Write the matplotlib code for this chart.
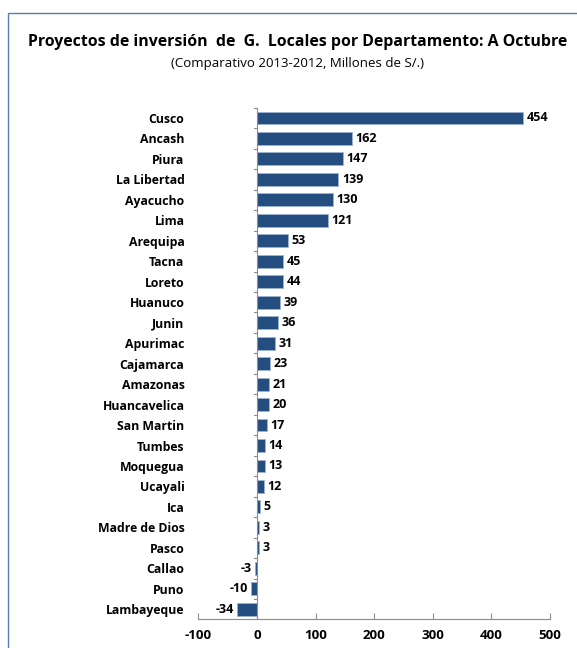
import matplotlib.pyplot as plt
from matplotlib.patches import Rectangle

departamentos = ["Cusco", "Ancash", "Piura", "La Libertad", "Ayacucho", "Lima",
                 "Arequipa", "Tacna", "Loreto", "Huanuco", "Junin", "Apurimac",
                 "Cajamarca", "Amazonas", "Huancavelica", "San Martin", "Tumbes",
                 "Moquegua", "Ucayali", "Ica", "Madre de Dios", "Pasco",
                 "Callao", "Puno", "Lambayeque"]
valores = [454, 162, 147, 139, 130, 121, 53, 45, 44, 39, 36, 31, 23, 21, 20,
           17, 14, 13, 12, 5, 3, 3, -3, -10, -34]
x_ticks = [-100, 0, 100, 200, 300, 400, 500]

plt.rcParams['font.family'] = ['Open Sans', 'DejaVu Sans']

fig = plt.figure(figsize=(5.77, 6.48), dpi=100)
ax = fig.add_axes([0.3438, 0.044, 0.6094, 0.7897])

pos = list(range(len(departamentos)))
ax.barh(pos, valores, height=0.63, color="#254E80", edgecolor="#9DB3D0", linewidth=0.6)
ax.set_ylim(len(departamentos) - 0.5, -0.5)
ax.set_xlim(-100, 500)

for p, v in zip(pos, valores):
    if v >= 0:
        ax.text(v + 6, p, str(v), va="center", ha="left", fontsize=9, fontweight="bold")
    else:
        ax.text(v - 6, p, str(v), va="center", ha="right", fontsize=9, fontweight="bold")

ax.set_yticks(pos)
ax.set_yticklabels(departamentos, fontsize=8.8, fontweight="bold")
ax.tick_params(axis="y", length=0, pad=10)
# tick marks between categories on the zero line
for b in [i - 0.5 for i in range(len(departamentos) + 1)]:
    ax.plot([-5, 0], [b, b], color="#8C8C8C", lw=0.8, clip_on=False)

ax.set_xticks(x_ticks)
ax.set_xticklabels([str(t) for t in x_ticks], fontsize=9.5, fontweight="bold")
ax.tick_params(axis="x", direction="in", length=4, color="#8C8C8C", pad=7)

for s in ["top", "right", "left"]:
    ax.spines[s].set_visible(False)
ax.spines["bottom"].set_color("#8C8C8C")
ax.axvline(0, color="#8C8C8C", lw=0.8)

fig.text(0.516, 0.935, "Proyectos de inversión  de  G.  Locales por Departamento: A Octubre",
         ha="center", va="center", fontsize=11.4, fontweight="bold")
fig.text(0.516, 0.902, "(Comparativo 2013-2012, Millones de S/.)",
         ha="center", va="center", fontsize=9.5)

fig.patches.append(Rectangle((8 / 577, -0.1), 1.2, 1.1 - 13 / 648, transform=fig.transFigure,
                             fill=False, edgecolor="#5A7DB0", lw=1.0))

fig.savefig("out.png", dpi=100)
